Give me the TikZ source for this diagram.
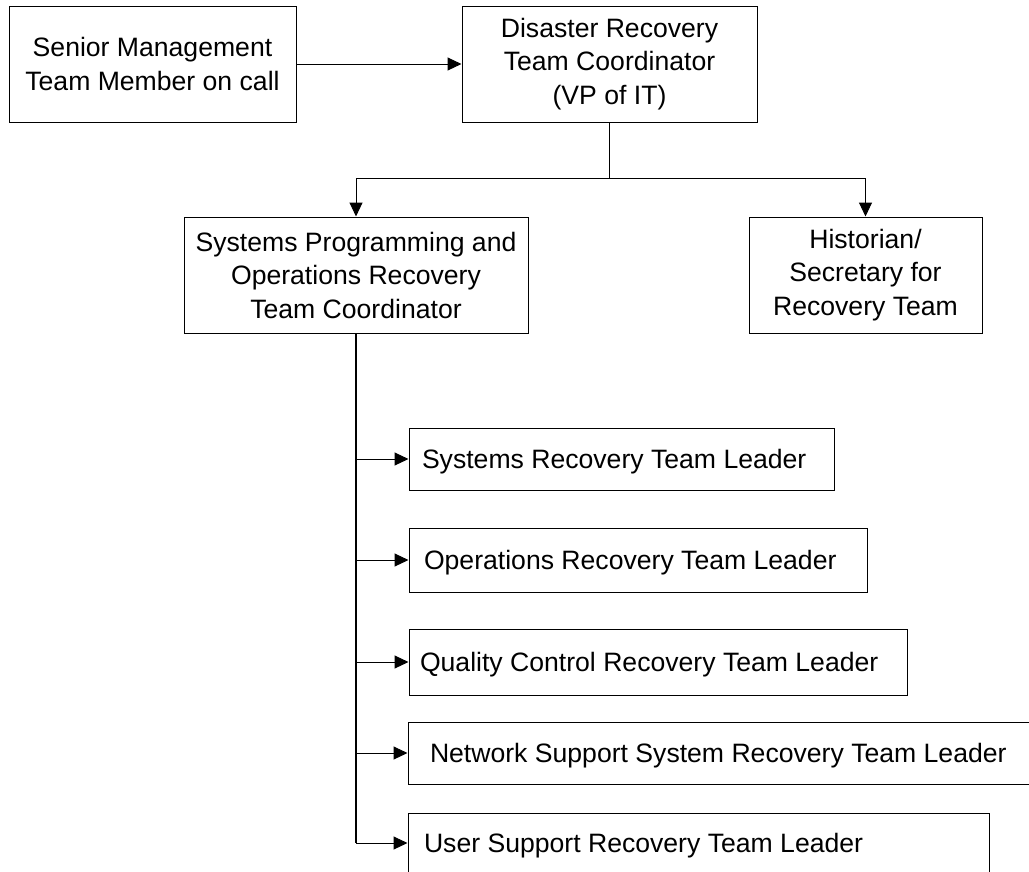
\documentclass[tikz,border=0pt]{standalone}
\usepackage{fontspec}
\setmainfont{Liberation Sans}
\usetikzlibrary{arrows.meta}
\tikzset{
  box/.style={draw=black, line width=1pt, rectangle, inner sep=0pt, align=center,
    font=\fontsize{26.6}{33.5}\selectfont},
  leaderbox/.style={box, text depth=0pt},
  conn/.style={draw=black, line width=1pt},
  arr/.style={conn, -{Triangle[length=14pt,width=13pt]}},
  trunk/.style={draw=black, line width=1.8pt}
}
\newcommand{\padtext}[3]{\makebox[#1pt][l]{\hspace*{#2pt}#3}}
\begin{document}
\begin{tikzpicture}[x=1pt,y=-1pt]
\useasboundingbox (0,0) rectangle (1029,871);
\fill[white] (0,0) rectangle (1029,871);

\node[box, minimum width=287pt, minimum height=116pt] (senior) at (152.5,64)
  {Senior Management\\Team Member on call};
\node[box, minimum width=295pt, minimum height=116pt] (disaster) at (609.5,64)
  {Disaster Recovery\\Team Coordinator\\(VP of IT)};
\node[box, minimum width=344pt, minimum height=116pt] (sysprog) at (356,275)
  {Systems Programming and\\Operations Recovery\\Team Coordinator};
\node[box, minimum width=233pt, minimum height=116pt] (hist) at (865.5,275)
  {Historian/\\Secretary for\\Recovery Team};

\node[leaderbox, minimum height=62pt] (sysrec) at (621.5,459)
  {\padtext{425}{13}{Systems Recovery Team Leader}};
\node[leaderbox, minimum height=64pt] (ops) at (638,560)
  {\padtext{458}{15}{Operations Recovery Team Leader}};
\node[leaderbox, minimum height=66pt] (qual) at (658,662)
  {\padtext{498}{11}{Quality Control Recovery Team Leader}};
\node[leaderbox, minimum height=62pt] (net) at (720,753)
  {\padtext{624}{22}{Network Support System Recovery Team Leader}};
\node[leaderbox, minimum height=60pt] (user) at (698.5,843)
  {\padtext{581}{16}{User Support Recovery Team Leader}};

\draw[arr] (senior) -- (disaster);
\coordinate (j) at (609.5,178);
\draw[conn] (disaster.south) -- (j);
\draw[arr] (j) -| (sysprog.north);
\draw[arr] (j) -| (hist.north);

\draw[trunk] (sysprog.south) -- (sysprog.south |- user.west);
\foreach \n in {sysrec,ops,qual,net,user}{
  \draw[arr] (sysprog.south |- \n.west) -- (\n.west);
}
\end{tikzpicture}
\end{document}
